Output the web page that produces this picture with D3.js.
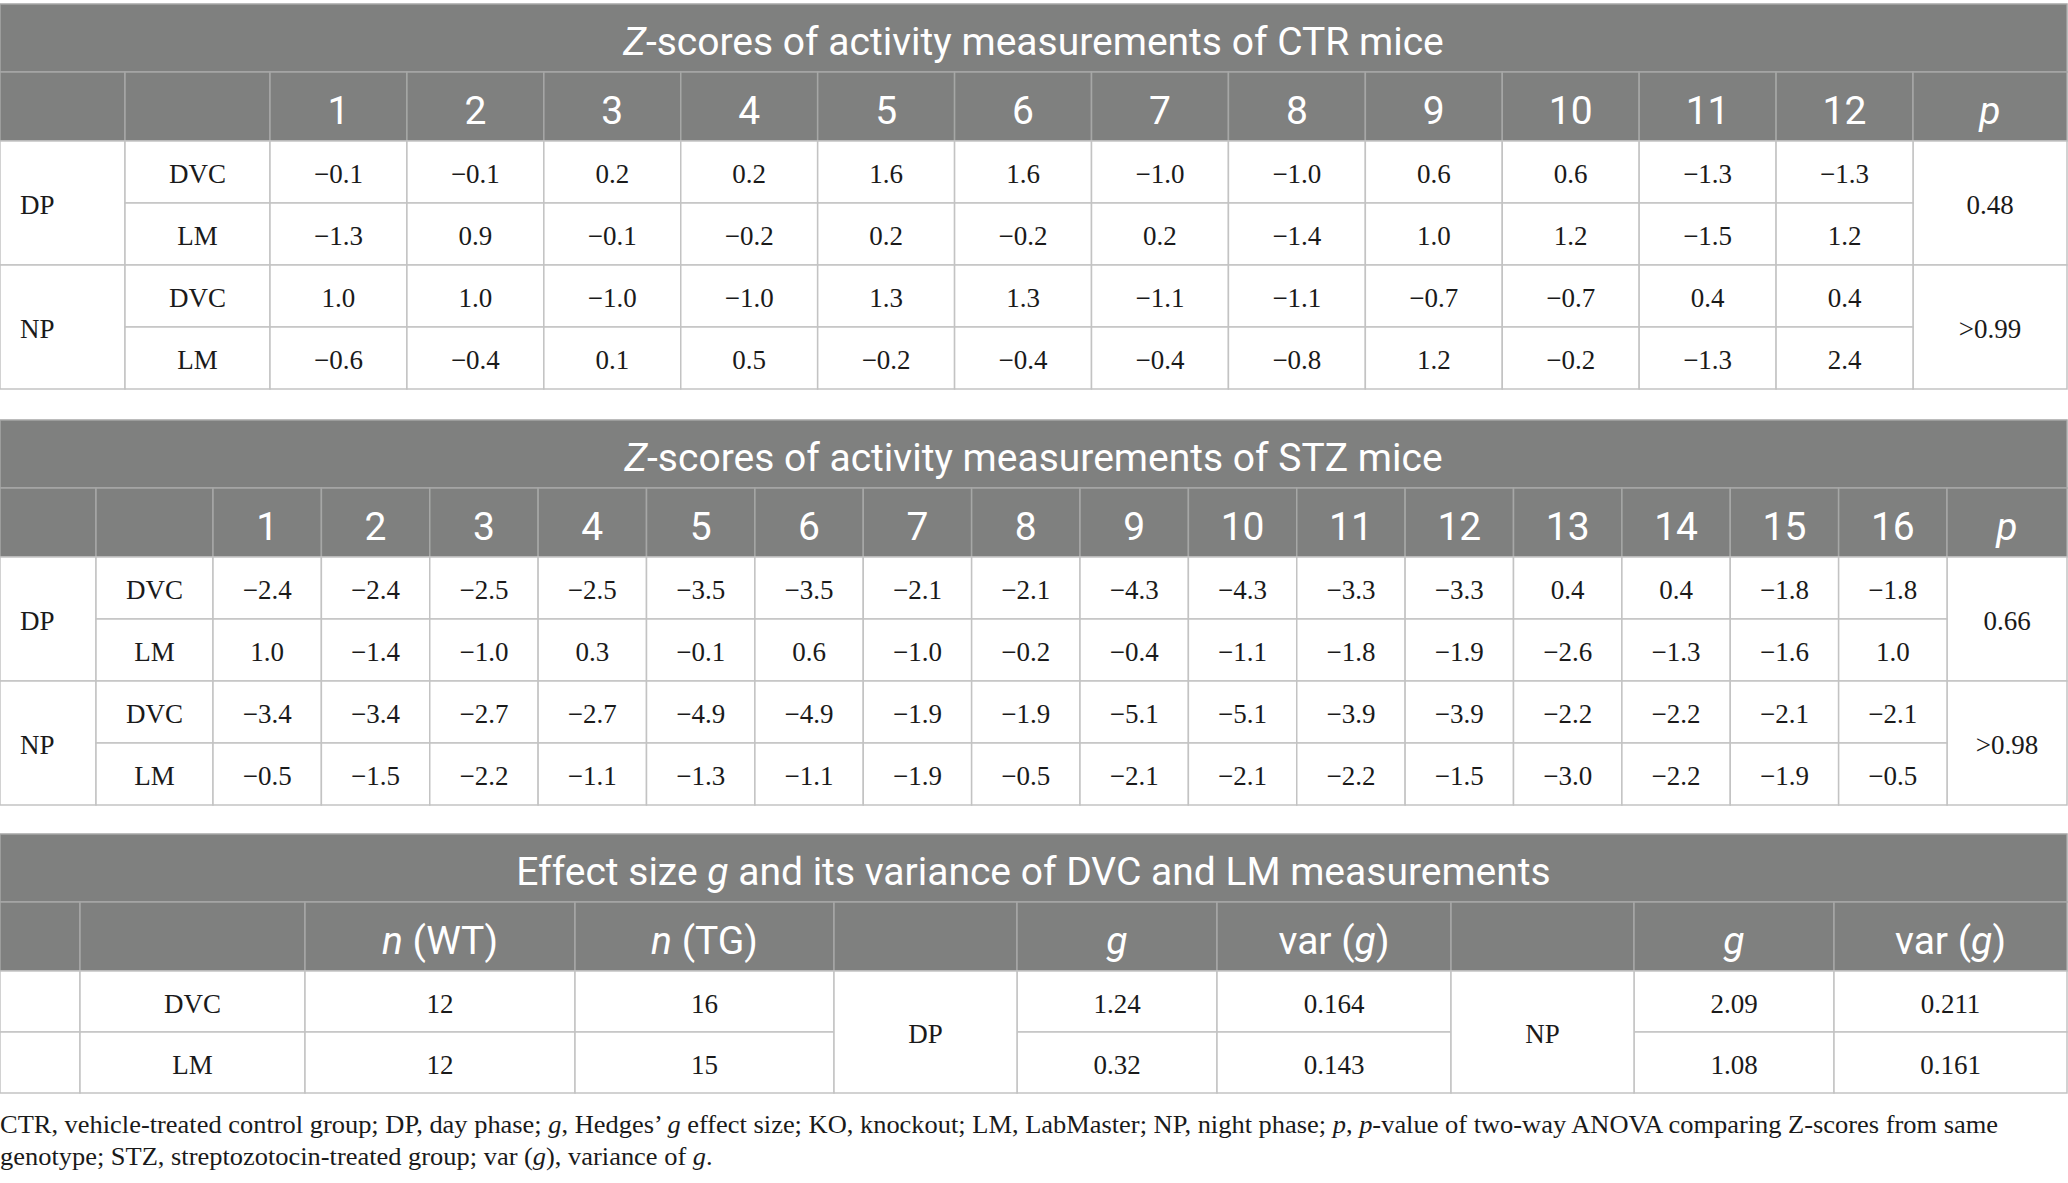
<!DOCTYPE html>
<html>
<head>
<meta charset="utf-8">
<title>Z-scores of activity measurements</title>
<script src="https://cdn.jsdelivr.net/npm/d3@7"></script>
<style>
  body { margin: 0; background: #fff; }
</style>
</head>
<body>
<div id="chart"></div>
<script>
var phases = ["DP", "NP"];
var measures = ["DVC", "LM"];

// CTR mice, animals 1..12
var ctrAnimals = ["1", "2", "3", "4", "5", "6", "7", "8", "9", "10", "11", "12"];
var ctrDpDvc = [-0.1, -0.1, 0.2, 0.2, 1.6, 1.6, -1.0, -1.0, 0.6, 0.6, -1.3, -1.3];
var ctrDpLm  = [-1.3, 0.9, -0.1, -0.2, 0.2, -0.2, 0.2, -1.4, 1.0, 1.2, -1.5, 1.2];
var ctrNpDvc = [1.0, 1.0, -1.0, -1.0, 1.3, 1.3, -1.1, -1.1, -0.7, -0.7, 0.4, 0.4];
var ctrNpLm  = [-0.6, -0.4, 0.1, 0.5, -0.2, -0.4, -0.4, -0.8, 1.2, -0.2, -1.3, 2.4];
var ctrP = ["0.48", ">0.99"];

// STZ mice, animals 1..16
var stzAnimals = ["1", "2", "3", "4", "5", "6", "7", "8", "9", "10", "11", "12", "13", "14", "15", "16"];
var stzDpDvc = [-2.4, -2.4, -2.5, -2.5, -3.5, -3.5, -2.1, -2.1, -4.3, -4.3, -3.3, -3.3, 0.4, 0.4, -1.8, -1.8];
var stzDpLm  = [1.0, -1.4, -1.0, 0.3, -0.1, 0.6, -1.0, -0.2, -0.4, -1.1, -1.8, -1.9, -2.6, -1.3, -1.6, 1.0];
var stzNpDvc = [-3.4, -3.4, -2.7, -2.7, -4.9, -4.9, -1.9, -1.9, -5.1, -5.1, -3.9, -3.9, -2.2, -2.2, -2.1, -2.1];
var stzNpLm  = [-0.5, -1.5, -2.2, -1.1, -1.3, -1.1, -1.9, -0.5, -2.1, -2.1, -2.2, -1.5, -3.0, -2.2, -1.9, -0.5];
var stzP = ["0.66", ">0.98"];

// effect size table
var effN_WT = [12, 12];
var effN_TG = [16, 15];
var effDpG = [1.24, 0.32];
var effDpVar = [0.164, 0.143];
var effNpG = [2.09, 1.08];
var effNpVar = [0.211, 0.161];

// ---- look ----
var W = 2067;
var HEAD_FILL = "#7f807f", HEAD_LINE = "#a6a7a6", BODY_LINE = "#c3c3c3";
var SANS = "Roboto, sans-serif", SERIF = "'Liberation Serif', 'Times New Roman', serif";
var SANS_SIZE = 39, SERIF_SIZE = 27, NOTE_SIZE = 26;
var fmt1 = d3.format(".1f"), fmt2 = d3.format(".2f"), fmt3 = d3.format(".3f");

var svg = d3.select("#chart").append("svg")
    .attr("width", 2068)
    .attr("height", 1183);

function cell(g, x0, x1, y0, y1, head) {
  g.append("rect")
    .attr("x", x0).attr("y", y0)
    .attr("width", x1 - x0).attr("height", y1 - y0)
    .attr("fill", head ? HEAD_FILL : "#fff")
    .attr("stroke", head ? HEAD_LINE : BODY_LINE)
    .attr("stroke-width", 1.5);
}

// parts: string or array of [text, italic]
function label(g, x, yc, parts, head, anchor, sizeOverride) {
  if (typeof parts === "string") parts = [[parts, false]];
  var size = sizeOverride || (head ? SANS_SIZE : SERIF_SIZE);
  var t = g.append("text")
    .attr("x", x)
    .attr("y", yc + (head ? size * 0.355 + 3.5 : size * 0.34 + 2))
    .attr("text-anchor", anchor || "middle")
    .attr("font-family", head ? SANS : SERIF)
    .attr("font-size", size)
    .attr("fill", head ? "#fff" : "#1a1a1a");
  parts.forEach(function(p) {
    t.append("tspan").text(p[0]).attr("font-style", p[1] ? "italic" : "normal");
  });
  return t;
}

// Z-score table (CTR or STZ)
function zTable(top, cfg) {
  var g = svg.append("g");
  var titleH = 68, headH = 69, rowH = 62;
  var headTop = top + titleH, bodyTop = headTop + headH;

  var x = d3.scaleBand().domain(cfg.animals).range([cfg.c2, cfg.pStart]);
  var y = d3.scaleBand().domain(d3.range(4)).range([bodyTop, bodyTop + 4 * rowH]);

  cell(g, 0, W, top, headTop, true);
  label(g, W / 2, top + titleH / 2, cfg.title, true);

  cell(g, 0, cfg.c1, headTop, bodyTop, true);
  cell(g, cfg.c1, cfg.c2, headTop, bodyTop, true);
  cfg.animals.forEach(function(a) {
    cell(g, x(a), x(a) + x.bandwidth(), headTop, bodyTop, true);
    label(g, x(a) + x.bandwidth() / 2, headTop + headH / 2, a, true);
  });
  cell(g, cfg.pStart, W, headTop, bodyTop, true);
  label(g, (cfg.pStart + W) / 2, headTop + headH / 2, [["p", true]], true);

  phases.forEach(function(ph, i) {
    var r0 = i * 2, yTop = y(r0), yBot = y(r0 + 1) + y.bandwidth();
    cell(g, 0, cfg.c1, yTop, yBot, false);
    label(g, 20, (yTop + yBot) / 2, ph, false, "start");
    cell(g, cfg.pStart, W, yTop, yBot, false);
    label(g, (cfg.pStart + W) / 2, (yTop + yBot) / 2, cfg.p[i], false);
    measures.forEach(function(m, j) {
      var r = r0 + j, vals = cfg.rows[r];
      cell(g, cfg.c1, cfg.c2, y(r), y(r) + y.bandwidth(), false);
      label(g, (cfg.c1 + cfg.c2) / 2, y(r) + y.bandwidth() / 2, m, false);
      cfg.animals.forEach(function(a, k) {
        cell(g, x(a), x(a) + x.bandwidth(), y(r), y(r) + y.bandwidth(), false);
        label(g, x(a) + x.bandwidth() / 2, y(r) + y.bandwidth() / 2, fmt1(vals[k]), false);
      });
    });
  });
}

zTable(4, {
  title: [["Z", true], ["-scores of activity measurements of CTR mice", false]],
  animals: ctrAnimals,
  rows: [ctrDpDvc, ctrDpLm, ctrNpDvc, ctrNpLm],
  p: ctrP,
  c1: 125, c2: 270, pStart: 1913
});

zTable(420, {
  title: [["Z", true], ["-scores of activity measurements of STZ mice", false]],
  animals: stzAnimals,
  rows: [stzDpDvc, stzDpLm, stzNpDvc, stzNpLm],
  p: stzP,
  c1: 96, c2: 213, pStart: 1947
});

// effect size table
(function() {
  var g = svg.append("g");
  var top = 834, titleH = 68, headH = 69, rowH = 61;
  var headTop = top + titleH, bodyTop = headTop + headH;
  var edges = [0, 80, 305, 575, 834, 1017, 1217, 1451, 1634, 1834, W];
  var heads = [
    "", "",
    [["n", true], [" (WT)", false]],
    [["n", true], [" (TG)", false]],
    "",
    [["g", true]],
    [["var (", false], ["g", true], [")", false]],
    "",
    [["g", true]],
    [["var (", false], ["g", true], [")", false]]
  ];
  var y = d3.scaleBand().domain(d3.range(2)).range([bodyTop, bodyTop + 2 * rowH]);
  var mid = function(c) { return (edges[c] + edges[c + 1]) / 2; };

  cell(g, 0, W, top, headTop, true);
  label(g, W / 2, top + titleH / 2,
    [["Effect size ", false], ["g", true], [" and its variance of DVC and LM measurements", false]], true);

  heads.forEach(function(h, c) {
    cell(g, edges[c], edges[c + 1], headTop, bodyTop, true);
    if (h !== "") label(g, mid(c), headTop + headH / 2, h, true);
  });

  measures.forEach(function(m, r) {
    var y0 = y(r), y1 = y(r) + y.bandwidth(), yc = (y0 + y1) / 2;
    var vals = [null, m, String(effN_WT[r]), String(effN_TG[r]), null,
                fmt2(effDpG[r]), fmt3(effDpVar[r]), null, fmt2(effNpG[r]), fmt3(effNpVar[r])];
    vals.forEach(function(v, c) {
      if (c === 4 || c === 7) return;
      cell(g, edges[c], edges[c + 1], y0, y1, false);
      if (v !== null) label(g, mid(c), yc, v, false);
    });
  });
  [[4, phases[0]], [7, phases[1]]].forEach(function(d) {
    var y0 = y(0), y1 = y(1) + y.bandwidth();
    cell(g, edges[d[0]], edges[d[0] + 1], y0, y1, false);
    label(g, mid(d[0]), (y0 + y1) / 2, d[1], false);
  });
})();

// footnote
var note1 = label(svg, 0, 1122, [
  ["CTR, vehicle-treated control group; DP, day phase; ", false], ["g", true],
  [", Hedges\u2019 ", false], ["g", true],
  [" effect size; KO, knockout; LM, LabMaster; NP, night phase; ", false], ["p", true],
  [", ", false], ["p", true],
  ["-value of two-way ANOVA comparing Z-scores from same", false]
], false, "start", NOTE_SIZE);
var note2 = label(svg, 0, 1154, [
  ["genotype; STZ, streptozotocin-treated group; var (", false], ["g", true],
  ["), variance of ", false], ["g", true], [".", false]
], false, "start", NOTE_SIZE);
var squeeze = 1998 / note1.node().getComputedTextLength();
[note1, note2].forEach(function(t) {
  t.attr("textLength", t.node().getComputedTextLength() * squeeze)
   .attr("lengthAdjust", "spacingAndGlyphs");
});
</script>
</body>
</html>
